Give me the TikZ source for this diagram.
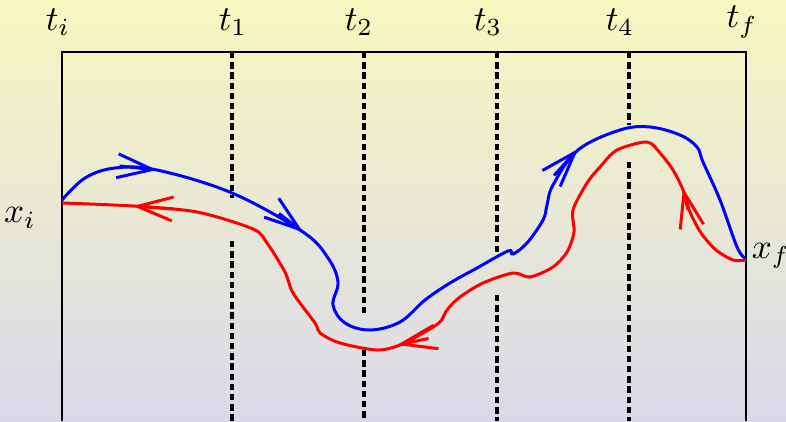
\documentclass[tikz,border=0pt]{standalone}
\usetikzlibrary{arrows.meta}
\definecolor{bgtop}{RGB}{247,247,192}
\definecolor{bgbottom}{RGB}{218,217,234}

\begin{document}
\begin{tikzpicture}[
      x=0.01cm, y=-0.01cm,
      frame/.style={draw, line width=0.75pt},
      tline/.style={draw, line width=1pt, dash pattern=on 1.8pt off 1.1pt},
      barb/.style={-{Straight Barb[length=10pt, width=6.8pt]}},
      fwd/.style={draw=blue, line width=0.85pt},
      bwd/.style={draw=red, line width=0.85pt},
      lbl/.style={inner sep=0pt, font=\normalsize}
    ]
    % Background
    \useasboundingbox (0,0) rectangle (786,421);
    \fill[top color=bgtop, bottom color=bgbottom] (0,0) rectangle (786,421);

    % Labels
    \node [lbl] (ti) at (58,22) {$t_i$};
    \node [lbl] (t1) at (233,22) {$t_1$};
    \node [lbl] (t2) at (359,22) {$t_2$};
    \node [lbl] (t3) at (488,22) {$t_3$};
    \node [lbl] (t4) at (620,22) {$t_4$};
    \node [lbl] (tf) at (742,22) {$t_f$};
    \node [lbl] (xi) at (20,218) {$x_i$};
    \node [lbl] (xf) at (771,256) {$x_f$};

    % Frame and time slices
    \draw [frame] (62,421) -- (62,52) -- (746,52) -- (746,421);
    \foreach \x/\a/\b in {232/198/241, 364/316/350, 497/252/295, 629/125/162} {
      \draw [tline] (\x,52) -- (\x,\a);
      \draw [tline] (\x,\b) -- (\x,421);
    }

    % Forward path
    \draw [fwd] plot [smooth, tension=0.6] coordinates {
      (62,200) (85,178) (115,168) (157,170) (232,193) (303,232) (328,258)
      (338,282) (333,305) (345,323) (370,330) (400,322) (425,300) (450,283)
      (477,268) (508,251) (513,254) (527,243) (543,220) (547,205) (553,185)
      (578,150) (620,130) (650,127) (680,135) (697,147) (703,162) (720,200)
      (737,247) (745,258)};
    \draw [fwd, barb] (119.5,166) -- (157,170);
    \draw [fwd, barb] (279,213.5) -- (303,232);
    \draw [fwd, barb] (554,175.5) -- (578,149);

    % Backward path
    \draw [bwd] plot [smooth, tension=0.5] coordinates {
      (746,260) (733,260) (716,250) (701,233) (690,212) (683,190) (673,170)
      (660,153) (647,142) (617,150) (600,167) (587,183) (573,210) (574,232)
      (567,252) (553,267) (530,277) (513,273) (483,283) (460,297) (447,310)
      (440,322) (423,333) (400,345) (377,350) (340,343) (320,333) (315,323)
      (293,293) (285,272) (267,243) (253,229) (197,212) (133,206) (62,203)};
    \draw [bwd, barb] (688,210) -- (683,188);
    \draw [bwd, barb] (428.5,338.5) -- (397,345);
    \draw [bwd, barb] (173,209) -- (133,206);
  \end{tikzpicture}
\end{document}
